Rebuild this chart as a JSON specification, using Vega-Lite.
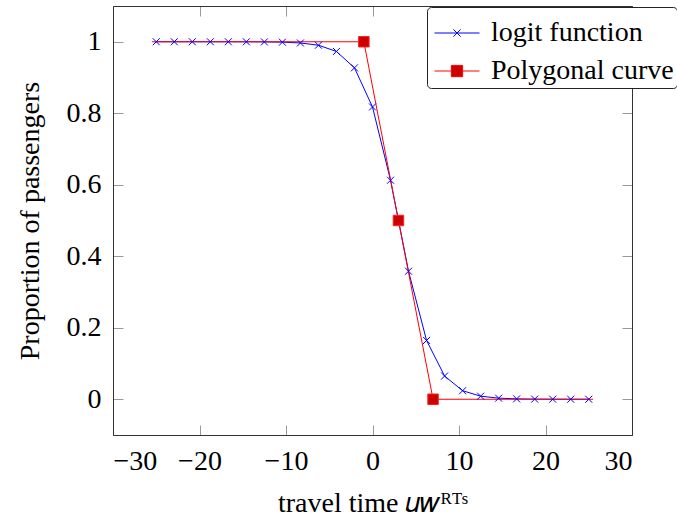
{
  "$schema": "https://vega.github.io/schema/vega-lite/v6.json",
  "width": 519,
  "height": 429,
  "autosize": {"type": "none"},
  "padding": {"left": 113, "top": 6, "right": 45, "bottom": 93},
  "background": "white",
  "config": {
    "view": {"stroke": "#333333", "strokeWidth": 1},
    "font": "Liberation Serif",
    "axis": {
      "labelFont": "Liberation Serif",
      "labelFontSize": 28,
      "labelColor": "black",
      "titleFont": "Liberation Serif",
      "titleFontSize": 28,
      "titleFontWeight": "normal",
      "titleColor": "black",
      "domainColor": "#333333",
      "tickColor": "#999999",
      "tickSize": -10,
      "grid": false
    }
  },
  "datasets": {
    "curves": [
      {"series": "logit function", "x": -25, "y": 0.999999},
      {"series": "logit function", "x": -22.917, "y": 0.999998},
      {"series": "logit function", "x": -20.833, "y": 0.999993},
      {"series": "logit function", "x": -18.75, "y": 0.99998},
      {"series": "logit function", "x": -16.667, "y": 0.99995},
      {"series": "logit function", "x": -14.583, "y": 0.99985},
      {"series": "logit function", "x": -12.5, "y": 0.99957},
      {"series": "logit function", "x": -10.417, "y": 0.99878},
      {"series": "logit function", "x": -8.333, "y": 0.99655},
      {"series": "logit function", "x": -6.25, "y": 0.9903},
      {"series": "logit function", "x": -4.167, "y": 0.9729},
      {"series": "logit function", "x": -2.083, "y": 0.927},
      {"series": "logit function", "x": 0, "y": 0.8176},
      {"series": "logit function", "x": 2.083, "y": 0.6126},
      {"series": "logit function", "x": 4.167, "y": 0.3581},
      {"series": "logit function", "x": 6.25, "y": 0.1645},
      {"series": "logit function", "x": 8.333, "y": 0.065},
      {"series": "logit function", "x": 10.417, "y": 0.0239},
      {"series": "logit function", "x": 12.5, "y": 0.0086},
      {"series": "logit function", "x": 14.583, "y": 0.00305},
      {"series": "logit function", "x": 16.667, "y": 0.00108},
      {"series": "logit function", "x": 18.75, "y": 0.00038},
      {"series": "logit function", "x": 20.833, "y": 0.000134},
      {"series": "logit function", "x": 22.917, "y": 0.000047},
      {"series": "logit function", "x": 25, "y": 0.0000167},
      {"series": "Polygonal curve", "x": -25.5, "y": 1, "mark": false},
      {"series": "Polygonal curve", "x": -1, "y": 1, "mark": true},
      {"series": "Polygonal curve", "x": 3, "y": 0.5, "mark": true},
      {"series": "Polygonal curve", "x": 7, "y": 0, "mark": true},
      {"series": "Polygonal curve", "x": 25.5, "y": 0, "mark": false}
    ]
  },
  "data": {"name": "curves"},
  "layer": [
    {
      "mark": {"type": "line", "strokeWidth": 1, "clip": true},
      "encoding": {
        "x": {
          "field": "x", "type": "quantitative",
          "scale": {"domain": [-30, 30], "nice": false},
          "axis": {"orient": "bottom", "values": [-30, -20, -10, 0, 10, 20, 30], "format": "d", "labelPadding": 22, "labelFont": "Liberation Serif", "labelFontSize": 28, "titleFont": "Liberation Serif", "titleFontSize": 28, "title": "travel time 𝑢𝑤ᴿᵀˢ", "titlePadding": 14}
        },
        "y": {
          "field": "y", "type": "quantitative",
          "scale": {"domain": [-0.1, 1.1], "nice": false, "zero": false},
          "axis": {"orient": "left", "values": [0, 0.2, 0.4, 0.6, 0.8, 1], "format": "~g", "labelPadding": 22, "labelFont": "Liberation Serif", "labelFontSize": 28, "titleFont": "Liberation Serif", "titleFontSize": 28, "title": "Proportion of passengers", "titlePadding": 22}
        },
        "color": {
          "field": "series", "type": "nominal",
          "scale": {"domain": ["logit function", "Polygonal curve"], "range": ["#0000ff", "#ff0000"]},
          "legend": {
            "title": null,
            "orient": "none",
            "legendX": 314,
            "legendY": 1,
            "fillColor": "white",
            "strokeColor": "#222222",
            "cornerRadius": 4,
            "padding": 3,
            "labelFont": "Liberation Serif",
            "labelFontSize": 28,
            "labelColor": "black",
            "labelLimit": 400,
            "labelOffset": 11,
            "symbolOffset": 4,
            "symbolSize": 2025,
            "rowPadding": 1,
            "encode": {
              "symbols": {
                "update": {
                  "shape": {"signal": "datum.value === 'logit function' ? 'M-1,0H1M-0.16,-0.16L0.16,0.16M-0.16,0.16L0.16,-0.16' : 'M-1,0H-0.25M0.25,0H1M-0.25,-0.25H0.25V0.25H-0.25Z'"},
                  "fill": {"signal": "datum.value === 'logit function' ? 'transparent' : '#cc0000'"},
                  "strokeWidth": {"value": 1},
                  "opacity": {"value": 1}
                }
              }
            }
          }
        },
        "order": {"field": "x", "type": "quantitative"}
      }
    },
    {
      "transform": [{"filter": "datum.series === 'logit function'"}],
      "mark": {"type": "point", "shape": "M-1,-1L1,1M-1,1L1,-1", "size": 49, "filled": false, "stroke": "#0000ff", "strokeWidth": 1, "opacity": 1},
      "encoding": {
        "x": {"field": "x", "type": "quantitative", "axis": {"orient": "top", "values": [-30, -20, -10, 0, 10, 20, 30], "labels": false, "title": null}},
        "y": {"field": "y", "type": "quantitative", "axis": {"orient": "right", "values": [0, 0.2, 0.4, 0.6, 0.8, 1], "labels": false, "title": null}}
      }
    },
    {
      "transform": [{"filter": "datum.mark === true"}],
      "mark": {"type": "point", "shape": "square", "size": 110, "filled": true, "fill": "#cc0000", "stroke": "#ff2020", "strokeWidth": 1, "opacity": 1},
      "encoding": {
        "x": {"field": "x", "type": "quantitative", "axis": null},
        "y": {"field": "y", "type": "quantitative", "axis": null}
      }
    }
  ],
  "resolve": {"axis": {"x": "independent", "y": "independent"}}
}
